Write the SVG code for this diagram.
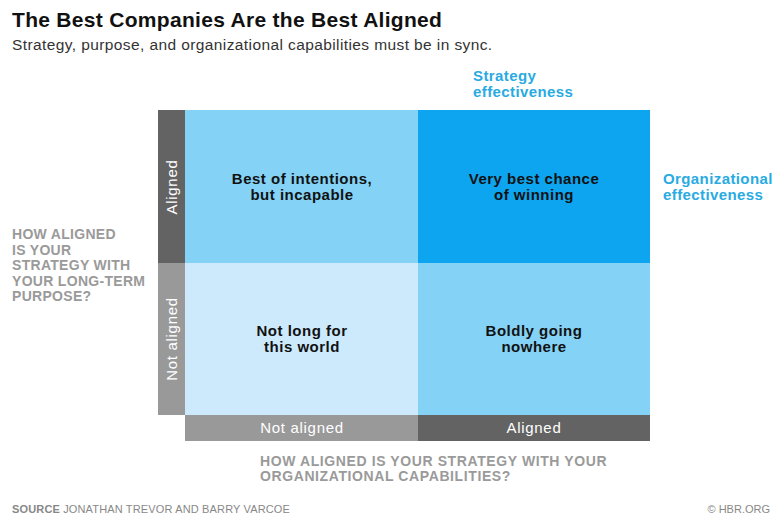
<svg xmlns="http://www.w3.org/2000/svg" width="776" height="514" viewBox="0 0 776 514">
<style>
text{font-family:"Liberation Sans",Arial,sans-serif}
.q{font-size:15px;font-weight:bold;fill:#111;text-anchor:middle;letter-spacing:0.5px}
.ax{font-size:15px;fill:#fff;text-anchor:middle;letter-spacing:0.7px}
.blue{font-size:15px;font-weight:bold;fill:#29abe2;letter-spacing:0.4px}
.gq{font-size:14px;font-weight:bold;fill:#9a9a9a;letter-spacing:0.6px}
.gl{font-size:14px;letter-spacing:0.3px}
</style>
<rect width="776" height="514" fill="#fff"/>
<g id="title">
<text x="12" y="27" font-size="21" font-weight="bold" fill="#111" letter-spacing="0.3">The Best Companies Are the Best Aligned</text>
<text x="12" y="50" font-size="15.5" fill="#333" letter-spacing="0.4">Strategy, purpose, and organizational capabilities must be in sync.</text>
</g>
<g id="q-tl"><rect x="185" y="110" width="233" height="153" fill="#84d3f7"/>
<text class="q" x="302" y="184">Best of intentions,</text><text class="q" x="302" y="200">but incapable</text></g>
<g id="q-tr"><rect x="418" y="110" width="232" height="153" fill="#0ea5f0"/>
<text class="q" x="534" y="184">Very best chance</text><text class="q" x="534" y="200">of winning</text></g>
<g id="q-bl"><rect x="185" y="263" width="233" height="152" fill="#cdeafc"/>
<text class="q" x="302" y="336">Not long for</text><text class="q" x="302" y="352">this world</text></g>
<g id="q-br"><rect x="418" y="263" width="232" height="152" fill="#84d3f7"/>
<text class="q" x="534" y="336">Boldly going</text><text class="q" x="534" y="352">nowhere</text></g>
<g id="y-axis">
<rect x="158" y="110" width="27" height="153" fill="#636363"/>
<rect x="158" y="263" width="27" height="152" fill="#999"/>
<text class="ax" transform="translate(177,187) rotate(-90)">Aligned</text>
<text class="ax" transform="translate(177,339) rotate(-90)">Not aligned</text>
</g>
<g id="x-axis">
<rect x="185" y="415" width="233" height="26" fill="#999"/>
<rect x="418" y="415" width="232" height="26" fill="#636363"/>
<text class="ax" x="302" y="433">Not aligned</text>
<text class="ax" x="534" y="433">Aligned</text>
</g>
<g id="strategy-label"><text class="blue" x="473" y="81">Strategy</text><text class="blue" x="473" y="97">effectiveness</text></g>
<g id="org-label"><text class="blue" x="663" y="184">Organizational</text><text class="blue" x="663" y="200">effectiveness</text></g>
<g id="y-question">
<text class="gq gl" x="12" y="239">HOW ALIGNED</text>
<text class="gq gl" x="12" y="255">IS YOUR</text>
<text class="gq gl" x="12" y="270">STRATEGY WITH</text>
<text class="gq gl" x="12" y="286">YOUR LONG-TERM</text>
<text class="gq gl" x="12" y="301">PURPOSE?</text>
</g>
<g id="x-question">
<text class="gq" x="260" y="466">HOW ALIGNED IS YOUR STRATEGY WITH YOUR</text>
<text class="gq" x="260" y="481">ORGANIZATIONAL CAPABILITIES?</text>
</g>
<g id="footer">
<text x="12" y="513" font-size="11" fill="#888" letter-spacing="0.15"><tspan font-weight="bold">SOURCE</tspan> JONATHAN TREVOR AND BARRY VARCOE</text>
<text x="770" y="513" font-size="11" fill="#888" text-anchor="end">© HBR.ORG</text>
</g>
<g id="connectors"/>
</svg>
